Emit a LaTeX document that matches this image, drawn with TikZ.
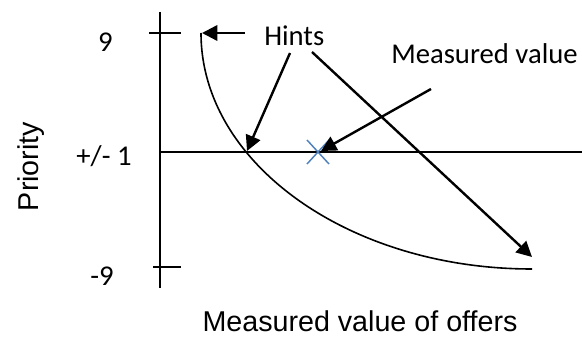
\documentclass[tikz,border=0pt]{standalone}
\usepackage{fontspec}
\setmainfont{Carlito}
\newfontfamily\arialfont{Liberation Sans}
\usetikzlibrary{arrows.meta}
\tikzset{
  axisline/.style={line width=1.3pt, black},
  curveline/.style={line width=1.2pt, black},
  hintarrow/.style={line width=1.8pt, black, -{Triangle[length=11.5pt,width=11.5pt]}},
  crossline/.style={line width=1.1pt, color=crossblue},
  lbl/.style={inner sep=0pt, font=\fontsize{21.5}{26}\selectfont},
  albl/.style={inner sep=0pt, font=\arialfont\fontsize{21.5}{26}\selectfont},
}
\definecolor{crossblue}{HTML}{4F81BD}
\begin{document}
\begin{tikzpicture}[x=0.75pt, y=-0.75pt]
\useasboundingbox (0,0) rectangle (582,338);
% axes
\coordinate (vtop) at (160,12);
\coordinate (vbot) at (160,288);
\coordinate (hleft) at (160,152);
\coordinate (hright) at (582,152);
\coordinate (t9a) at (149,33);
\coordinate (t9b) at (181,33);
\coordinate (tm9a) at (153,267);
\coordinate (tm9b) at (181,267);
\draw[axisline] (vtop) -- (vbot);
\draw[axisline] (hleft) -- (hright);
\draw[axisline] (t9a) -- (t9b);
\draw[axisline] (tm9a) -- (tm9b);
% curve
\coordinate (cstart) at (201,33);
\coordinate (cend) at (532,269);
\draw[curveline] (cstart) .. controls (201,163.3) and (349.2,269) .. (cend);
% labels
\node[lbl, anchor=base] (l9) at (105.5,52) {9};
\node[lbl, anchor=base] (l1) at (104,166) {+/- 1};
\node[lbl, anchor=base] (lm9) at (102,286) {-9};
\node[albl, anchor=base, rotate=90] (prio) at (38,166.5) {Priority};
\node[albl, anchor=base] (xlab) at (360,332) {Measured value of offers};
\node[lbl, anchor=base west] (hints) at (264,46) {Hints};
\node[lbl, anchor=base west] (mv) at (391,64) {Measured value};
% cross
\coordinate (x) at (318,152);
\draw[crossline] ([shift={(-11,-12)}]x) -- ([shift={(11,12)}]x);
\draw[crossline] ([shift={(-11,12)}]x) -- ([shift={(11,-12)}]x);
% arrows
\coordinate (a1s) at (245,33);
\coordinate (a1e) at (202,33);
\coordinate (a2s) at (290,53);
\coordinate (a2e) at (247,151);
\coordinate (a3s) at (312,52);
\coordinate (a3e) at (532,257);
\coordinate (a4s) at (431,89);
\coordinate (a4e) at (321,151);
\draw[hintarrow] (a1s) -- (a1e);
\draw[hintarrow] (a2s) -- (a2e);
\draw[hintarrow] (a3s) -- (a3e);
\draw[hintarrow] (a4s) -- (a4e);
\end{tikzpicture}
\end{document}
